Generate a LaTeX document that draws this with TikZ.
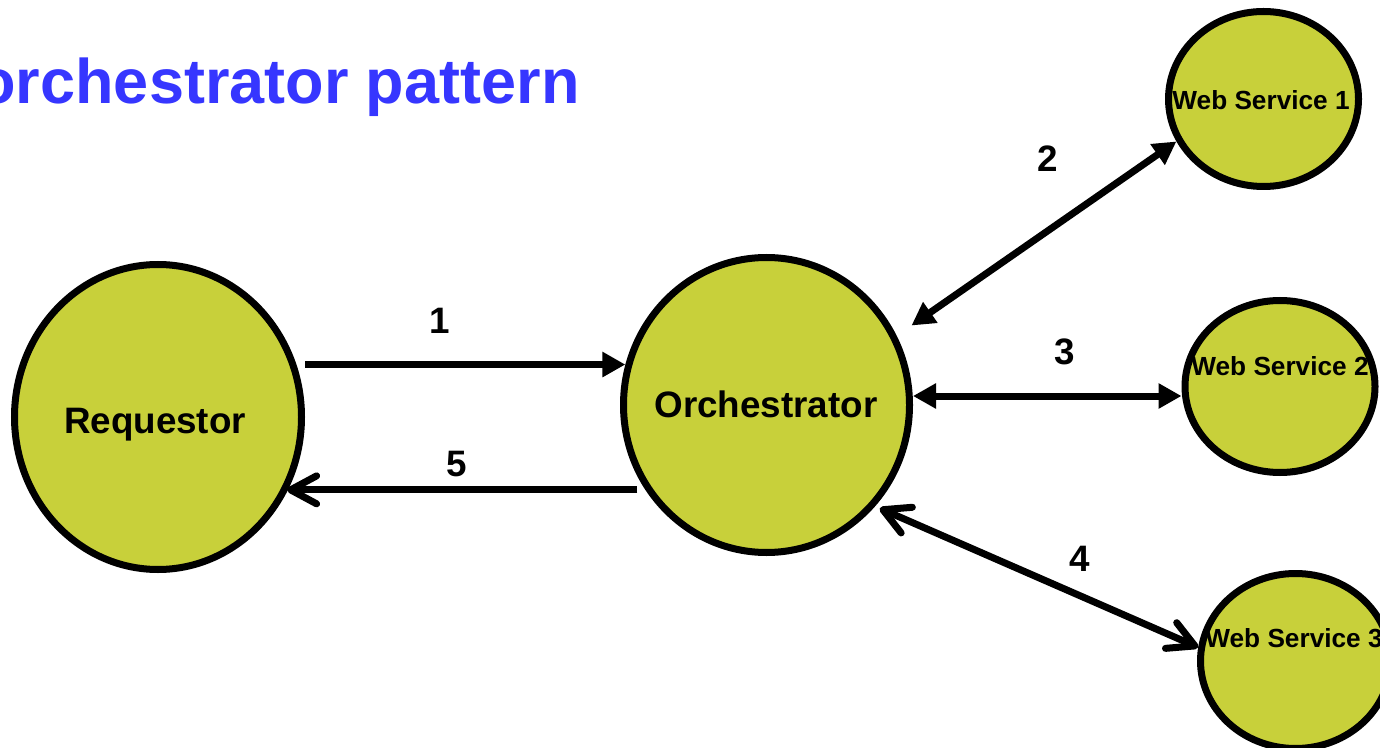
\documentclass[tikz,border=0pt]{standalone}
\usepackage{fontspec}
\setmainfont{Liberation Sans}
\usetikzlibrary{arrows.meta,shapes.geometric}
\definecolor{blobfill}{RGB}{200,208,58}
\definecolor{titleblue}{RGB}{54,54,255}
\begin{document}
\begin{tikzpicture}[x=0.5pt,y=-0.5pt,
  blob/.style={ellipse, draw=black, line width=3.5pt, fill=blobfill, inner sep=0pt},
  bigtxt/.style={font=\fontsize{18.4}{22}\selectfont\bfseries, text height=13.2pt, text depth=0pt, inner sep=0pt},
  smalltxt/.style={font=\fontsize{13.1}{16}\selectfont\bfseries, text height=9.4pt, text depth=0pt, inner sep=0pt},
  conn/.style={line width=3.5pt},
  tri/.style={conn, -{Triangle[length=11.5pt,width=12pt]}},
  tritri/.style={conn, {Triangle[length=11.5pt,width=12pt]}-{Triangle[length=11.5pt,width=12pt]}},
  barb/.style={conn, -{Straight Barb[length=13pt,width=14pt,round]}},
  barbbarb/.style={conn, {Straight Barb[length=13pt,width=14pt,round]}-{Straight Barb[length=13pt,width=14pt,round]}},
]
\useasboundingbox (0,0) rectangle (1380,748);
\clip (0,0) rectangle (1380,748);

% title
\node[font=\fontsize{31.5}{36}\selectfont\bfseries, text=titleblue, anchor=base east, inner sep=0pt] (title) at (580,104) {orchestrator pattern};

% shapes
\node[blob, minimum width=143.5pt, minimum height=152.5pt] (req) at (158,417) {};
\node[bigtxt] (reqt) at (155,420) {Requestor};
\node[blob, minimum width=143pt, minimum height=147.5pt] (orch) at (766.5,405) {};
\node[bigtxt] (orcht) at (766,404) {Orchestrator};
\node[blob, minimum width=95pt, minimum height=87.5pt] (ws1) at (1263.5,99) {};
\node[smalltxt] (ws1t) at (1261,100) {Web Service 1};
\node[blob, minimum width=95pt, minimum height=86pt] (ws2) at (1280,386.5) {};
\node[smalltxt] (ws2t) at (1280,366) {Web Service 2};
\node[blob, minimum width=95pt, minimum height=87.5pt] (ws3) at (1295.5,661) {};
\node[smalltxt] (ws3t) at (1294,638) {Web Service 3};

% connectors
\draw[tri] (req.east |- orch.164) -- (orch.164);
\draw[barb] ([xshift=-4pt]orch.215) -- (orch.215 -| req.-30);
\draw[tritri, shorten <=9pt] (orch.28) -- (ws1.206);
\draw[tritri] ([yshift=4.5pt]orch.east) -- ([yshift=4.5pt]orch.east -| ws2.west);
\draw[barbbarb, shorten <=2.5pt] (orch.-43) -- (ws3.172);

% labels
\node[bigtxt] (n1) at (440,320) {1};
\node[bigtxt] (n5) at (457,463) {5};
\node[bigtxt] (n2) at (1048,158) {2};
\node[bigtxt] (n3) at (1065,351) {3};
\node[bigtxt] (n4) at (1080,558) {4};
\end{tikzpicture}
\end{document}
